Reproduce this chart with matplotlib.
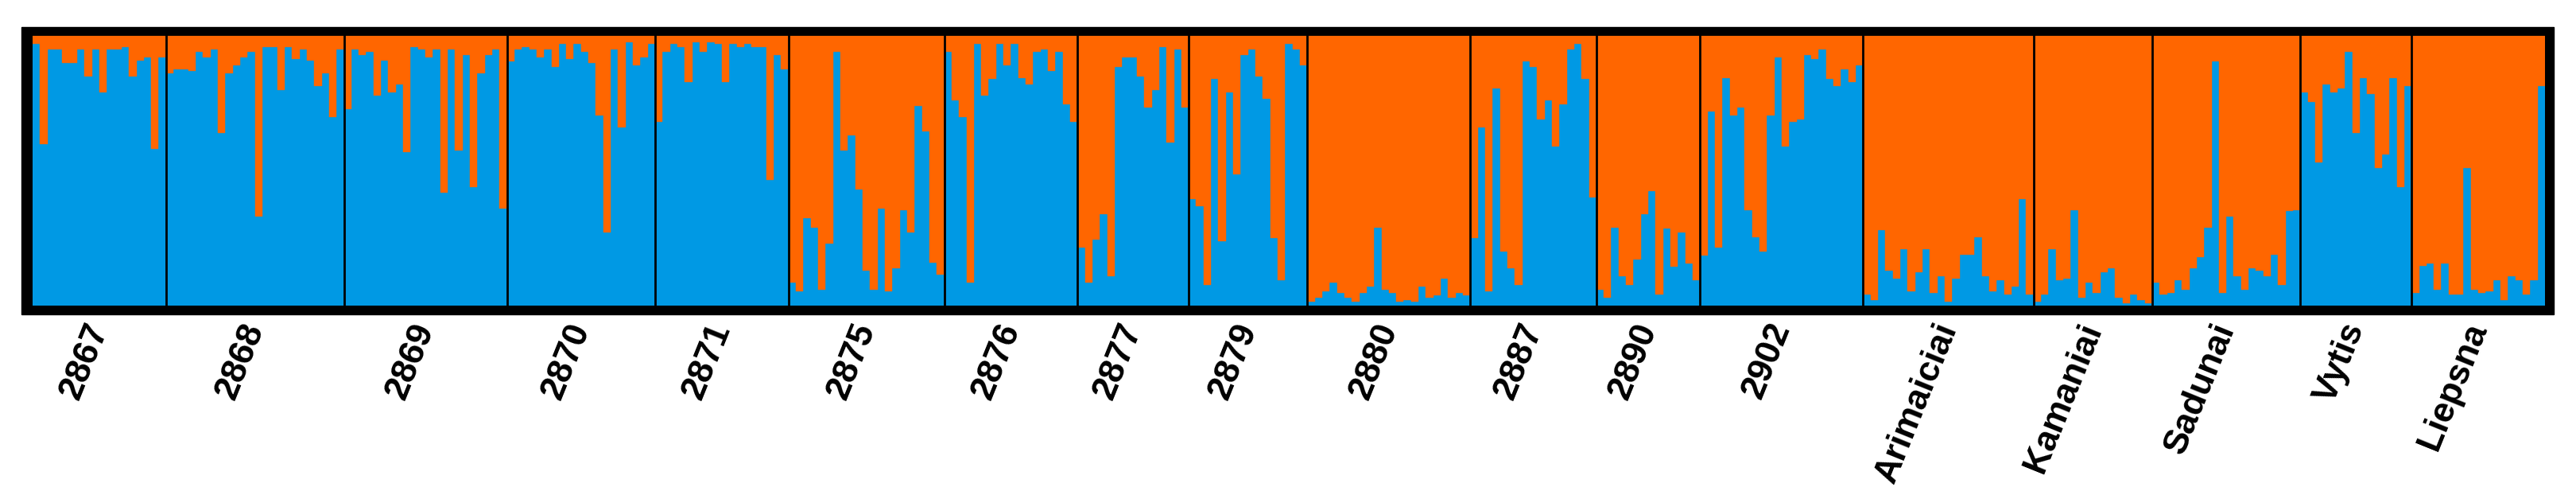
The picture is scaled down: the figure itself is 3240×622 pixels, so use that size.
import numpy as np
import matplotlib.pyplot as plt
from matplotlib.patches import Rectangle

# blue-cluster membership per individual, one list per population
q_2867 = [0.97, 0.60, 0.95, 0.95, 0.90, 0.90, 0.95, 0.85, 0.95, 0.79, 0.95, 0.95, 0.96, 0.85, 0.91, 0.92, 0.58, 0.92]
q_2868 = [0.86, 0.875, 0.875, 0.87, 0.94, 0.92, 0.95, 0.64, 0.86, 0.89, 0.92, 0.94, 0.33, 0.96, 0.96, 0.80,
          0.96, 0.915, 0.95, 0.91, 0.815, 0.86, 0.70, 0.95]
q_2869 = [0.73, 0.95, 0.93, 0.94, 0.78, 0.91, 0.79, 0.82, 0.57, 0.96, 0.95, 0.92, 0.95, 0.42, 0.95, 0.575,
          0.93, 0.44, 0.86, 0.93, 0.95, 0.36]
q_2870 = [0.905, 0.95, 0.96, 0.95, 0.92, 0.95, 0.885, 0.97, 0.915, 0.97, 0.94, 0.90, 0.705, 0.27, 0.95, 0.66,
          0.975, 0.89, 0.92, 0.97]
q_2871 = [0.68, 0.94, 0.97, 0.96, 0.83, 0.975, 0.94, 0.975, 0.97, 0.83, 0.97, 0.96, 0.97, 0.96, 0.96, 0.465,
          0.93, 0.875]
q_2875 = [0.085, 0.054, 0.325, 0.29, 0.06, 0.23, 0.94, 0.575, 0.63, 0.43, 0.13, 0.06, 0.36, 0.054, 0.14, 0.355,
          0.27, 0.74, 0.645, 0.16, 0.115]
q_2876 = [0.94, 0.76, 0.70, 0.085, 0.97, 0.78, 0.84, 0.97, 0.89, 0.97, 0.845, 0.82, 0.94, 0.95, 0.87, 0.94,
          0.745, 0.68]
q_2877 = [0.215, 0.085, 0.245, 0.34, 0.11, 0.885, 0.92, 0.92, 0.85, 0.735, 0.80, 0.96, 0.605, 0.95, 0.735]
q_2879 = [0.395, 0.37, 0.077, 0.84, 0.24, 0.79, 0.487, 0.93, 0.95, 0.85, 0.767, 0.25, 0.093, 0.97, 0.95, 0.89]
q_2880 = [0.015, 0.03, 0.054, 0.085, 0.046, 0.03, 0.015, 0.046, 0.07, 0.29, 0.06, 0.046, 0.015, 0.022, 0.015,
          0.07, 0.03, 0.038, 0.10, 0.03, 0.046, 0.038]
q_2887 = [0.25, 0.66, 0.054, 0.805, 0.20, 0.14, 0.077, 0.905, 0.885, 0.69, 0.76, 0.59, 0.745, 0.95, 0.97, 0.84,
          0.40]
q_2890 = [0.06, 0.03, 0.29, 0.11, 0.077, 0.17, 0.34, 0.425, 0.04, 0.285, 0.145, 0.27, 0.155, 0.093]
q_2902 = [0.185, 0.72, 0.215, 0.845, 0.705, 0.735, 0.355, 0.255, 0.20, 0.705, 0.92, 0.59, 0.68, 0.69, 0.93,
          0.915, 0.95, 0.84, 0.815, 0.875, 0.83, 0.89]
q_arim = [0.04, 0.022, 0.28, 0.13, 0.10, 0.21, 0.054, 0.123, 0.21, 0.046, 0.11, 0.015, 0.10, 0.19, 0.19, 0.255,
          0.11, 0.054, 0.093, 0.04, 0.07, 0.395, 0.04]
q_kam = [0.015, 0.04, 0.21, 0.093, 0.10, 0.355, 0.03, 0.085, 0.046, 0.123, 0.14, 0.03, 0.008, 0.04, 0.022, 0.008]
q_sad = [0.085, 0.04, 0.046, 0.093, 0.06, 0.14, 0.18, 0.29, 0.905, 0.046, 0.33, 0.11, 0.06, 0.14, 0.13, 0.11,
         0.19, 0.077, 0.35, 0.355]
q_vyt = [0.79, 0.755, 0.53, 0.82, 0.79, 0.805, 0.94, 0.64, 0.845, 0.785, 0.51, 0.56, 0.845, 0.44, 0.815]
q_liep = [0.046, 0.147, 0.155, 0.06, 0.155, 0.04, 0.04, 0.51, 0.06, 0.046, 0.054, 0.093, 0.022, 0.11, 0.093,
          0.04, 0.093, 0.815]

pops = ['2867', '2868', '2869', '2870', '2871', '2875', '2876', '2877', '2879', '2880',
        '2887', '2890', '2902', 'Arimaiciai', 'Kamaniai', 'Sadunai', 'Vytis', 'Liepsna']
qs = [q_2867, q_2868, q_2869, q_2870, q_2871, q_2875, q_2876, q_2877, q_2879, q_2880,
      q_2887, q_2890, q_2902, q_arim, q_kam, q_sad, q_vyt, q_liep]

c_blue = '#0099e4'
c_orange = '#ff6600'

blue = np.concatenate([np.array(q) for q in qs])
n = len(blue)
x = np.arange(n)
counts = np.array([len(q) for q in qs])
ends = np.cumsum(counts)
starts = ends - counts

W, H = 3241, 622
fig = plt.figure(figsize=(W / 100, H / 100), dpi=100)
# thick black frame behind the plot
fig.patches.append(Rectangle((27 / W, 1 - 395 / H), (3212 - 27) / W, (395 - 34) / H,
                             transform=fig.transFigure, color='black', zorder=-5))
ax = fig.add_axes([41 / W, 1 - 384 / H, (3201 - 41) / W, (384 - 45) / H])
ax.set_zorder(5)

ax.bar(x, blue, width=1.0, color=c_blue, edgecolor=c_blue, linewidth=0.3)
ax.bar(x, 1 - blue, bottom=blue, width=1.0, color=c_orange, edgecolor=c_orange, linewidth=0.3)
for b in ends[:-1]:
    ax.axvline(b - 0.5, color='black', lw=2)

ax.set_xlim(-0.5, n - 0.5)
ax.set_ylim(0, 1)
ax.axis('off')

for name, s, c in zip(pops, starts, counts):
    ax.text(s + c / 2 - 0.5, -0.07, name, transform=ax.get_xaxis_transform(),
            rotation=68, ha='right', va='center', rotation_mode='anchor',
            fontsize=32, fontweight='bold', family='Liberation Sans')

fig.savefig('out.png', dpi=100, facecolor='white')
